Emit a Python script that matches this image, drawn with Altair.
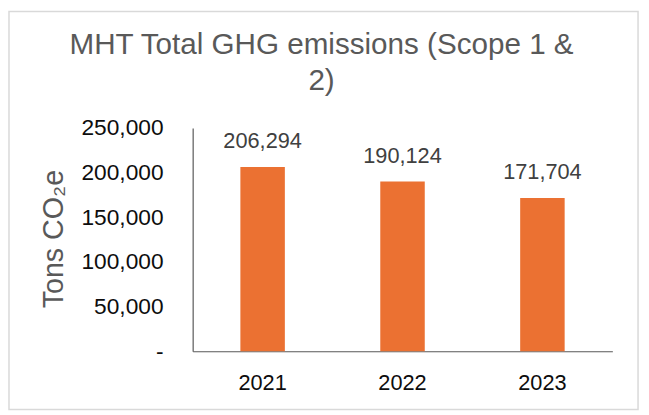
import altair as alt
import pandas as pd

years = ["2021", "2022", "2023"]
emissions = [206294, 190124, 171704]
y_ticks = [0, 50000, 100000, 150000, 200000, 250000]
title_lines = ["MHT Total GHG emissions (Scope 1 &", "2)"]

df = pd.DataFrame({"year": years, "value": emissions})
FONT = "Liberation Sans"

base = alt.Chart(df)

bars = base.mark_bar(color="#EB7132").encode(
    x=alt.X(
        "year:N",
        sort=years,
        scale=alt.Scale(paddingInner=0.682, paddingOuter=0.341),
        axis=alt.Axis(
            title=None,
            labelAngle=0,
            labelFont=FONT,
            labelFontSize=22,
            labelColor="#0d0d0d",
            labelPadding=22,
            ticks=False,
            domainColor="#595959",
            domainWidth=1.2,
            grid=False,
        ),
    ),
    y=alt.Y(
        "value:Q",
        scale=alt.Scale(domain=[0, 250000], nice=False),
        axis=alt.Axis(
            title="Tons CO₂e",
            values=y_ticks,
            labelExpr="datum.value == 0 ? '-\u2002' : format(datum.value, ',')",
            labelFont=FONT,
            labelFontSize=23,
            labelColor="#0d0d0d",
            labelPadding=30,
            ticks=False,
            domainColor="#595959",
            domainWidth=1.2,
            grid=False,
            titleFont=FONT,
            titleFontSize=29,
            titleFontWeight="normal",
            titleColor="#595959",
            titleX=-141,
            titleY=112,
            titleAngle=270,
            titleAlign="center",
            titleBaseline="middle",
        ),
    ),
)

labels = base.mark_text(
    font=FONT, fontSize=22, color="#404040", baseline="alphabetic", dy=-19
).encode(
    x=alt.X("year:N", sort=years),
    y="value:Q",
    text=alt.Text("value:Q", format=","),
)

border = alt.Chart(alt.Data(values=[{}])).mark_rect(
    fill=None, stroke="#d9d9d9", strokeWidth=1.5
).encode(
    x=alt.value(-186),
    x2=alt.value(451),
    y=alt.value(-118),
    y2=alt.value(285),
)

chart = (
    alt.layer(border, bars, labels)
    .properties(
        width=425,
        height=226,
        autosize=alt.AutoSizeParams(type="none"),
        padding={"left": 187, "top": 119, "right": 29, "bottom": 62},
        title=alt.Title(
            title_lines,
            font=FONT,
            fontSize=30,
            fontWeight="normal",
            color="#595959",
            anchor="middle",
            dx=-82,
            dy=86,
            offset=0,
            lineHeight=36,
        ),
    )
    .configure_view(stroke=None)
)

chart.save("out.html", embed_options={"renderer": "svg", "actions": False})
